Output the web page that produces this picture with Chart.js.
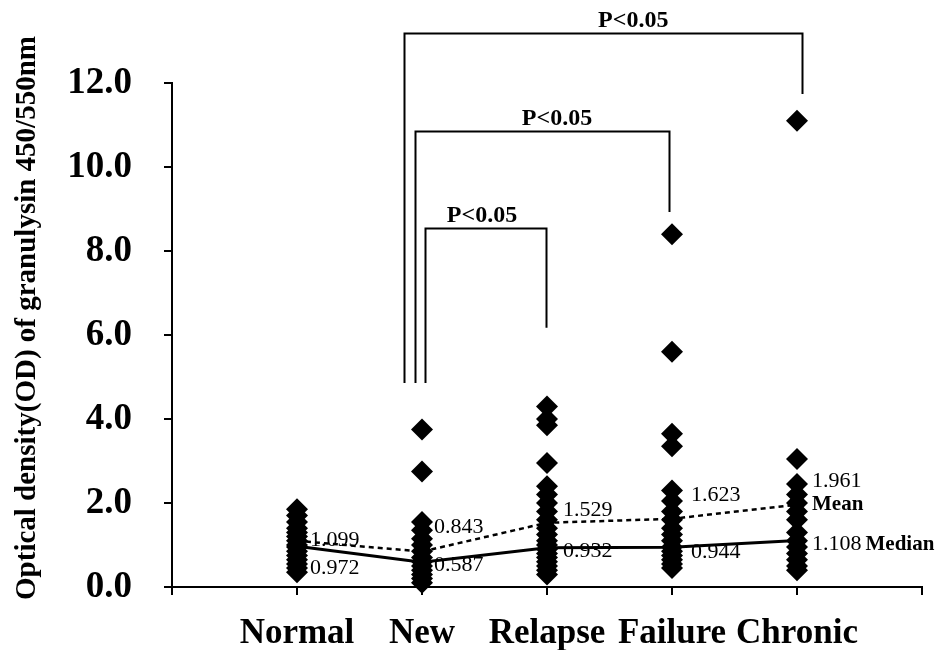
<!DOCTYPE html>
<html><head><meta charset="utf-8">
<script src="https://cdn.jsdelivr.net/npm/chart.js@4/dist/chart.umd.min.js"></script>
<style>html,body{margin:0;padding:0;background:#fff}</style>
</head><body>
<canvas id="c" width="944" height="650"></canvas>
<script>
// ---------- data ----------
const categories = ['Normal', 'New', 'Relapse', 'Failure', 'Chronic'];
const normalValues  = [1.85, 1.7, 1.55, 1.4, 1.3, 1.2, 1.1, 1.0, 0.95, 0.85, 0.75, 0.65, 0.55, 0.45, 0.35];
const newValues     = [3.75, 2.75, 1.55, 1.35, 1.15, 1.0, 0.85, 0.7, 0.6, 0.5, 0.4, 0.3, 0.2, 0.1];
const relapseValues = [4.3, 4.0, 3.85, 2.95, 2.4, 2.2, 2.0, 1.8, 1.6, 1.4, 1.25, 1.1, 1.0, 0.9, 0.8, 0.7, 0.6, 0.5, 0.4, 0.3];
const failureValues = [8.4, 5.6, 3.65, 3.35, 2.3, 2.05, 1.8, 1.6, 1.4, 1.25, 1.1, 0.95, 0.85, 0.75, 0.65, 0.55, 0.45];
const chronicValues = [11.1, 3.05, 2.45, 2.2, 2.0, 1.8, 1.6, 1.3, 1.1, 0.95, 0.8, 0.65, 0.5, 0.4];
const meanValues   = [1.099, 0.843, 1.529, 1.623, 1.961];
const medianValues = [0.972, 0.587, 0.932, 0.944, 1.108];
const meanLabels   = ['1.099', '0.843', '1.529', '1.623', '1.961'];
const medianLabels = ['0.972', '0.587', '0.932', '0.944', '1.108'];
const yTickValues  = [0, 2, 4, 6, 8, 10, 12];
const comparisonLabels = ['P<0.05', 'P<0.05', 'P<0.05'];
const comparisonPairs  = [['New', 'Relapse'], ['New', 'Failure'], ['New', 'Chronic']];

// ---------- layout / style (not data) ----------
const SERIF = '"Liberation Serif", "Times New Roman", serif';
const labelDx  = [13, 12, 16, 19, 15];
const meanDy   = [-1, -24, -13, -24, -23];
const medianDy = [22, 3, 3, 5, 4];
// bracket geometry in axis units: leg x offsets, top level, leg bottoms, label x
const bracketGeom = [
  {dl: 0.024, dr: -0.008, top: 8.55, lb: 4.86, rb: 6.17, lx: 2.48},
  {dl: -0.056, dr: -0.024, top: 10.86, lb: 4.86, rb: 8.93, lx: 3.08},
  {dl: -0.144, dr: 0.04, top: 13.2, lb: 4.86, rb: 11.74, lx: 3.69}
];

const groups = [normalValues, newValues, relapseValues, failureValues, chronicValues];
const pointData = [];
groups.forEach((arr, i) => arr.forEach(v => pointData.push({x: i + 1, y: v})));

const bgPlugin = {
  id: 'bg',
  beforeDraw(chart) {
    const ctx = chart.ctx;
    ctx.save(); ctx.fillStyle = '#fff'; ctx.fillRect(0, 0, chart.width, chart.height); ctx.restore();
  }
};

const annotPlugin = {
  id: 'annot',
  afterDraw(chart) {
    const ctx = chart.ctx, xs = chart.scales.x, ys = chart.scales.y;
    ctx.save();
    ctx.fillStyle = '#000';
    ctx.strokeStyle = '#000';
    // value labels
    ctx.textBaseline = 'middle';
    ctx.textAlign = 'left';
    for (let i = 0; i < categories.length; i++) {
      const px = xs.getPixelForValue(i + 1) + labelDx[i];
      ctx.font = '22px ' + SERIF;
      ctx.fillText(meanLabels[i], px, ys.getPixelForValue(meanValues[i]) + meanDy[i]);
      ctx.fillText(medianLabels[i], px, ys.getPixelForValue(medianValues[i]) + medianDy[i]);
    }
    const last = categories.length - 1;
    const lx = xs.getPixelForValue(last + 1) + labelDx[last];
    ctx.font = 'bold 21px ' + SERIF;
    ctx.fillText('Mean', lx, ys.getPixelForValue(meanValues[last]));
    ctx.font = '22px ' + SERIF;
    const mw = ctx.measureText(medianLabels[last]).width;
    ctx.font = 'bold 21px ' + SERIF;
    ctx.fillText('Median', lx + mw + 4, ys.getPixelForValue(medianValues[last]) + medianDy[last]);

    // significance brackets
    ctx.lineWidth = 2;
    comparisonPairs.forEach((pair, k) => {
      const g = bracketGeom[k];
      const a = categories.indexOf(pair[0]) + 1, b = categories.indexOf(pair[1]) + 1;
      const x1 = Math.round(xs.getPixelForValue(a + g.dl)) + 0.5;
      const x2 = Math.round(xs.getPixelForValue(b + g.dr)) + 0.5;
      const yt = Math.round(ys.getPixelForValue(g.top)) + 0.5;
      ctx.beginPath();
      ctx.moveTo(x1, ys.getPixelForValue(g.lb));
      ctx.lineTo(x1, yt);
      ctx.lineTo(x2, yt);
      ctx.lineTo(x2, ys.getPixelForValue(g.rb));
      ctx.stroke();
      ctx.font = 'bold 24px ' + SERIF;
      ctx.textAlign = 'center';
      ctx.textBaseline = 'bottom';
      ctx.fillText(comparisonLabels[k], xs.getPixelForValue(g.lx), yt - 1);
    });

    // y axis title
    ctx.translate(28, 318);
    ctx.rotate(-Math.PI / 2);
    ctx.font = 'bold 29px ' + SERIF;
    ctx.textAlign = 'center';
    ctx.textBaseline = 'middle';
    ctx.fillText('Optical density(OD) of granulysin 450/550nm', 0, 0);
    ctx.restore();
  }
};

new Chart(document.getElementById('c'), {
  data: {
    datasets: [
      {
        type: 'scatter',
        order: 0,
        data: pointData,
        pointStyle: 'rectRot',
        pointRadius: 11,
        pointBackgroundColor: '#000',
        pointBorderColor: '#000',
        pointBorderWidth: 0,
        clip: false
      },
      {
        type: 'line',
        order: 1,
        data: meanValues.map((v, i) => ({x: i + 1, y: v})),
        borderColor: '#000',
        borderWidth: 2.5,
        borderDash: [5, 4],
        pointRadius: 0,
        fill: false
      },
      {
        type: 'line',
        order: 2,
        data: medianValues.map((v, i) => ({x: i + 1, y: v})),
        borderColor: '#000',
        borderWidth: 3,
        pointRadius: 0,
        fill: false
      }
    ]
  },
  options: {
    responsive: false,
    animation: false,
    devicePixelRatio: 1,
    layout: {padding: {top: 83, right: 22, left: 0, bottom: 0}},
    plugins: {legend: {display: false}, tooltip: {enabled: false}},
    scales: {
      x: {
        type: 'linear',
        min: 0, max: categories.length + 1,
        afterBuildTicks: s => { s.ticks = Array.from({length: categories.length + 2}, (_, i) => ({value: i})); },
        ticks: {
          callback: v => categories[v - 1] || '',
          font: {family: SERIF, size: 35, weight: 'bold'},
          color: '#000',
          padding: 18,
          maxRotation: 0,
          autoSkip: false
        },
        grid: {drawOnChartArea: false, drawTicks: true, tickLength: 8, color: '#000', lineWidth: 2},
        border: {display: true, color: '#000', width: 2},
        afterFit: s => { s.height = 63; }
      },
      y: {
        min: 0, max: 12,
        afterBuildTicks: s => { s.ticks = yTickValues.map(v => ({value: v})); },
        ticks: {
          callback: v => v.toFixed(1),
          font: {family: SERIF, size: 37, weight: 'bold'},
          color: '#000',
          padding: 32
        },
        grid: {drawOnChartArea: false, drawTicks: true, tickLength: 8, color: '#000', lineWidth: 2},
        border: {display: true, color: '#000', width: 2},
        afterFit: s => { s.width = 172; }
      }
    }
  },
  plugins: [bgPlugin, annotPlugin]
});
</script>
</body></html>
